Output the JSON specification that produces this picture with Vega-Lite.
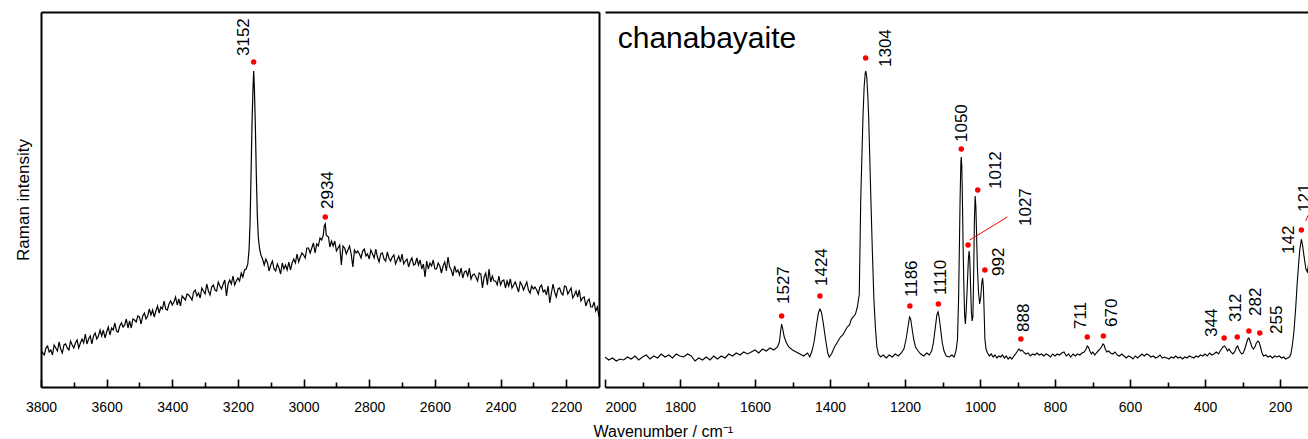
{
  "$schema": "https://vega.github.io/schema/vega-lite/v6.json",
  "background": "white",
  "padding": {"left": 14, "top": 12, "right": 0, "bottom": 0},
  "spacing": 6,
  "bounds": "flush",
  "config": {
    "view": {"stroke": null},
    "font": "Liberation Sans",
    "axis": {
      "grid": false,
      "labelFont": "Liberation Sans",
      "titleFont": "Liberation Sans",
      "labelColor": "black",
      "titleColor": "black",
      "domainColor": "black",
      "tickColor": "black",
      "titleFontWeight": "normal",
      "domainWidth": 2
    }
  },
  "resolve": {"scale": {"x": "independent", "y": "independent"}},
  "datasets": {
    "specA": [
      {"w":3800,"I":37},{"w":3795,"I":34},{"w":3790,"I":32},{"w":3785,"I":39},{"w":3780,"I":41},{"w":3775,"I":35},{"w":3770,"I":37},{"w":3765,"I":32},{"w":3760,"I":42},{"w":3755,"I":39},
      {"w":3750,"I":36},{"w":3745,"I":45},{"w":3740,"I":38},{"w":3735,"I":34},{"w":3730,"I":42},{"w":3725,"I":43},{"w":3720,"I":39},{"w":3715,"I":37},{"w":3710,"I":46},{"w":3705,"I":42},
      {"w":3700,"I":39},{"w":3695,"I":44},{"w":3690,"I":47},{"w":3685,"I":39},{"w":3680,"I":44},{"w":3675,"I":48},{"w":3670,"I":44},{"w":3665,"I":53},{"w":3660,"I":43},{"w":3655,"I":48},
      {"w":3650,"I":51},{"w":3645,"I":43},{"w":3640,"I":51},{"w":3635,"I":54},{"w":3630,"I":48},{"w":3625,"I":51},{"w":3620,"I":57},{"w":3615,"I":51},{"w":3610,"I":57},{"w":3605,"I":49},
      {"w":3600,"I":55},{"w":3595,"I":60},{"w":3590,"I":52},{"w":3585,"I":59},{"w":3580,"I":57},{"w":3575,"I":64},{"w":3570,"I":56},{"w":3565,"I":55},{"w":3560,"I":61},{"w":3555,"I":64},
      {"w":3550,"I":60},{"w":3545,"I":62},{"w":3540,"I":68},{"w":3535,"I":59},{"w":3530,"I":66},{"w":3525,"I":59},{"w":3520,"I":68},{"w":3515,"I":67},{"w":3510,"I":65},{"w":3505,"I":71},
      {"w":3500,"I":70},{"w":3495,"I":63},{"w":3490,"I":71},{"w":3485,"I":74},{"w":3480,"I":68},{"w":3475,"I":71},{"w":3470,"I":78},{"w":3465,"I":72},{"w":3460,"I":77},{"w":3455,"I":70},
      {"w":3450,"I":76},{"w":3445,"I":81},{"w":3440,"I":74},{"w":3435,"I":80},{"w":3430,"I":78},{"w":3425,"I":86},{"w":3420,"I":78},{"w":3415,"I":77},{"w":3410,"I":83},{"w":3405,"I":86},
      {"w":3400,"I":82},{"w":3395,"I":85},{"w":3390,"I":90},{"w":3385,"I":82},{"w":3380,"I":88},{"w":3375,"I":81},{"w":3370,"I":91},{"w":3365,"I":89},{"w":3360,"I":87},{"w":3355,"I":93},
      {"w":3350,"I":92},{"w":3345,"I":90},{"w":3340,"I":87},{"w":3335,"I":95},{"w":3330,"I":97},{"w":3325,"I":91},{"w":3320,"I":94},{"w":3315,"I":89},{"w":3310,"I":99},{"w":3305,"I":96},
      {"w":3300,"I":93},{"w":3295,"I":103},{"w":3290,"I":96},{"w":3285,"I":92},{"w":3280,"I":100},{"w":3275,"I":102},{"w":3270,"I":97},{"w":3265,"I":96},{"w":3260,"I":105},{"w":3255,"I":101},
      {"w":3250,"I":98},{"w":3245,"I":103},{"w":3240,"I":107},{"w":3235,"I":91},{"w":3230,"I":103},{"w":3225,"I":107},{"w":3220,"I":103},{"w":3215,"I":111},{"w":3210,"I":102},{"w":3205,"I":106},
      {"w":3200,"I":109},{"w":3195,"I":106},{"w":3190,"I":114},{"w":3185,"I":110},{"w":3180,"I":117},{"w":3175,"I":118},{"w":3170,"I":123},{"w":3166,"I":138},{"w":3163,"I":165},{"w":3160,"I":215},
      {"w":3157,"I":265},{"w":3154,"I":300},{"w":3152,"I":316},{"w":3150,"I":300},{"w":3147,"I":262},{"w":3144,"I":212},{"w":3141,"I":172},{"w":3138,"I":150},{"w":3134,"I":138},{"w":3130,"I":132},
      {"w":3125,"I":128},{"w":3120,"I":122},{"w":3115,"I":128},{"w":3110,"I":124},{"w":3105,"I":116},{"w":3100,"I":122},{"w":3095,"I":126},{"w":3090,"I":118},{"w":3085,"I":116},{"w":3080,"I":123},
      {"w":3075,"I":119},{"w":3070,"I":113},{"w":3065,"I":124},{"w":3060,"I":118},{"w":3055,"I":122},{"w":3050,"I":117},{"w":3045,"I":125},{"w":3040,"I":117},{"w":3035,"I":124},{"w":3030,"I":128},
      {"w":3025,"I":124},{"w":3020,"I":133},{"w":3015,"I":125},{"w":3010,"I":130},{"w":3005,"I":134},{"w":3000,"I":132},{"w":2995,"I":129},{"w":2990,"I":139},{"w":2985,"I":139},{"w":2980,"I":134},
      {"w":2975,"I":139},{"w":2970,"I":144},{"w":2965,"I":134},{"w":2960,"I":143},{"w":2955,"I":141},{"w":2950,"I":149},{"w":2945,"I":147},{"w":2940,"I":152},{"w":2937,"I":161},{"w":2934,"I":163},
      {"w":2931,"I":152},{"w":2928,"I":151},{"w":2924,"I":150},{"w":2920,"I":140},{"w":2915,"I":146},{"w":2910,"I":141},{"w":2905,"I":146},{"w":2900,"I":136},{"w":2895,"I":139},{"w":2890,"I":142},
      {"w":2885,"I":122},{"w":2880,"I":141},{"w":2875,"I":139},{"w":2870,"I":133},{"w":2865,"I":137},{"w":2860,"I":141},{"w":2855,"I":133},{"w":2850,"I":120},{"w":2845,"I":137},{"w":2840,"I":134},
      {"w":2835,"I":136},{"w":2830,"I":133},{"w":2825,"I":129},{"w":2820,"I":136},{"w":2815,"I":138},{"w":2810,"I":131},{"w":2805,"I":133},{"w":2800,"I":128},{"w":2795,"I":137},{"w":2790,"I":133},
      {"w":2785,"I":129},{"w":2780,"I":138},{"w":2775,"I":130},{"w":2770,"I":125},{"w":2765,"I":133},{"w":2760,"I":134},{"w":2755,"I":128},{"w":2750,"I":126},{"w":2745,"I":135},{"w":2740,"I":129},
      {"w":2735,"I":126},{"w":2730,"I":130},{"w":2725,"I":132},{"w":2720,"I":123},{"w":2715,"I":127},{"w":2710,"I":131},{"w":2705,"I":125},{"w":2700,"I":133},{"w":2695,"I":123},{"w":2690,"I":126},
      {"w":2685,"I":128},{"w":2680,"I":120},{"w":2675,"I":126},{"w":2670,"I":129},{"w":2665,"I":122},{"w":2660,"I":123},{"w":2655,"I":129},{"w":2650,"I":122},{"w":2645,"I":127},{"w":2640,"I":118},
      {"w":2635,"I":123},{"w":2630,"I":110},{"w":2625,"I":126},{"w":2620,"I":118},{"w":2615,"I":124},{"w":2610,"I":121},{"w":2605,"I":127},{"w":2600,"I":118},{"w":2595,"I":118},{"w":2590,"I":124},
      {"w":2585,"I":121},{"w":2580,"I":114},{"w":2575,"I":121},{"w":2570,"I":125},{"w":2565,"I":116},{"w":2560,"I":130},{"w":2555,"I":120},{"w":2550,"I":117},{"w":2545,"I":111},{"w":2540,"I":121},
      {"w":2535,"I":115},{"w":2530,"I":117},{"w":2525,"I":112},{"w":2520,"I":119},{"w":2515,"I":109},{"w":2510,"I":115},{"w":2505,"I":116},{"w":2500,"I":111},{"w":2495,"I":119},{"w":2490,"I":108},
      {"w":2485,"I":112},{"w":2480,"I":113},{"w":2475,"I":110},{"w":2470,"I":106},{"w":2465,"I":114},{"w":2460,"I":113},{"w":2455,"I":99},{"w":2450,"I":110},{"w":2445,"I":114},{"w":2440,"I":102},
      {"w":2435,"I":118},{"w":2430,"I":105},{"w":2425,"I":111},{"w":2420,"I":106},{"w":2415,"I":106},{"w":2410,"I":102},{"w":2405,"I":111},{"w":2400,"I":102},{"w":2395,"I":106},{"w":2390,"I":107},
      {"w":2385,"I":99},{"w":2380,"I":106},{"w":2375,"I":101},{"w":2370,"I":108},{"w":2365,"I":99},{"w":2360,"I":102},{"w":2355,"I":105},{"w":2350,"I":100},{"w":2345,"I":95},{"w":2340,"I":105},
      {"w":2335,"I":102},{"w":2330,"I":97},{"w":2325,"I":101},{"w":2320,"I":105},{"w":2315,"I":97},{"w":2310,"I":94},{"w":2305,"I":101},{"w":2300,"I":98},{"w":2295,"I":100},{"w":2290,"I":97},
      {"w":2285,"I":93},{"w":2280,"I":100},{"w":2275,"I":102},{"w":2270,"I":95},{"w":2265,"I":97},{"w":2260,"I":92},{"w":2255,"I":101},{"w":2250,"I":84},{"w":2245,"I":94},{"w":2240,"I":103},
      {"w":2235,"I":95},{"w":2230,"I":90},{"w":2225,"I":98},{"w":2220,"I":99},{"w":2215,"I":94},{"w":2210,"I":92},{"w":2205,"I":101},{"w":2200,"I":100},{"w":2195,"I":93},{"w":2190,"I":96},
      {"w":2185,"I":99},{"w":2180,"I":89},{"w":2175,"I":92},{"w":2170,"I":96},{"w":2165,"I":90},{"w":2160,"I":97},{"w":2155,"I":86},{"w":2150,"I":89},{"w":2145,"I":90},{"w":2140,"I":81},
      {"w":2135,"I":86},{"w":2130,"I":88},{"w":2125,"I":80},{"w":2120,"I":80},{"w":2115,"I":85},{"w":2110,"I":76},{"w":2105,"I":80},{"w":2100,"I":70}
    ],
    "peaksA": [
      {"w":3152,"I":325,"lw":3166,"lI":331,"label":"3152"},
      {"w":2934,"I":170,"lw":2911,"lI":178,"label":"2934"}
    ],
    "specB": [
      {"w":2000,"I":30},{"w":1990,"I":27},{"w":1980,"I":29},{"w":1970,"I":26},{"w":1960,"I":28},{"w":1950,"I":27},{"w":1940,"I":30},{"w":1930,"I":28},{"w":1920,"I":31},{"w":1910,"I":27},
      {"w":1900,"I":30},{"w":1890,"I":32},{"w":1880,"I":28},{"w":1870,"I":31},{"w":1860,"I":29},{"w":1850,"I":33},{"w":1840,"I":30},{"w":1830,"I":32},{"w":1820,"I":29},{"w":1810,"I":33},
      {"w":1800,"I":31},{"w":1790,"I":30},{"w":1780,"I":33},{"w":1770,"I":31},{"w":1760,"I":26},{"w":1750,"I":29},{"w":1740,"I":27},{"w":1730,"I":30},{"w":1720,"I":27},{"w":1710,"I":31},
      {"w":1700,"I":28},{"w":1690,"I":31},{"w":1680,"I":29},{"w":1670,"I":33},{"w":1660,"I":31},{"w":1650,"I":34},{"w":1640,"I":32},{"w":1630,"I":35},{"w":1620,"I":33},{"w":1610,"I":35},
      {"w":1600,"I":37},{"w":1590,"I":34},{"w":1580,"I":38},{"w":1570,"I":36},{"w":1560,"I":39},{"w":1550,"I":37},{"w":1540,"I":40},{"w":1535,"I":45},{"w":1531,"I":58},{"w":1529,"I":63},
      {"w":1526,"I":58},{"w":1522,"I":50},{"w":1516,"I":44},{"w":1510,"I":40},{"w":1500,"I":37},{"w":1490,"I":35},{"w":1480,"I":33},{"w":1470,"I":31},{"w":1460,"I":34},{"w":1454,"I":30},
      {"w":1448,"I":36},{"w":1442,"I":46},{"w":1436,"I":62},{"w":1431,"I":74},{"w":1427,"I":78},{"w":1423,"I":75},{"w":1418,"I":64},{"w":1412,"I":48},{"w":1406,"I":34},{"w":1402,"I":30},
      {"w":1396,"I":33},{"w":1388,"I":40},{"w":1380,"I":45},{"w":1372,"I":50},{"w":1366,"I":52},{"w":1360,"I":56},{"w":1354,"I":60},{"w":1348,"I":62},{"w":1343,"I":68},{"w":1338,"I":70},
      {"w":1332,"I":73},{"w":1327,"I":80},{"w":1324,"I":88},{"w":1322,"I":92},{"w":1320,"I":140},{"w":1318,"I":188},{"w":1315,"I":230},{"w":1312,"I":271},{"w":1309,"I":300},{"w":1306,"I":314},
      {"w":1304.5,"I":316},{"w":1302,"I":310},{"w":1299,"I":290},{"w":1297,"I":271},{"w":1294,"I":230},{"w":1291,"I":188},{"w":1287,"I":135},{"w":1283,"I":88},{"w":1279,"I":60},{"w":1275,"I":40},
      {"w":1271,"I":33},{"w":1265,"I":30},{"w":1258,"I":32},{"w":1250,"I":29},{"w":1242,"I":32},{"w":1234,"I":30},{"w":1226,"I":33},{"w":1218,"I":31},{"w":1210,"I":34},{"w":1203,"I":38},
      {"w":1197,"I":48},{"w":1192,"I":60},{"w":1188,"I":70},{"w":1185,"I":68},{"w":1181,"I":58},{"w":1177,"I":48},{"w":1172,"I":40},{"w":1165,"I":36},{"w":1158,"I":33},{"w":1150,"I":31},
      {"w":1142,"I":34},{"w":1135,"I":32},{"w":1129,"I":36},{"w":1124,"I":45},{"w":1119,"I":60},{"w":1115,"I":72},{"w":1112,"I":75},{"w":1109,"I":70},{"w":1105,"I":58},{"w":1101,"I":45},
      {"w":1096,"I":36},{"w":1090,"I":31},{"w":1082,"I":30},{"w":1075,"I":32},{"w":1069,"I":30},{"w":1064,"I":36},{"w":1060,"I":48},{"w":1057,"I":90},{"w":1055,"I":140},{"w":1053,"I":190},
      {"w":1051,"I":225},{"w":1050,"I":230},{"w":1048.5,"I":220},{"w":1047,"I":190},{"w":1045,"I":140},{"w":1043,"I":100},{"w":1041,"I":72},{"w":1039,"I":63},{"w":1037,"I":75},{"w":1034,"I":100},
      {"w":1031,"I":128},{"w":1029,"I":136},{"w":1027.5,"I":130},{"w":1025,"I":100},{"w":1023,"I":75},{"w":1021,"I":66},{"w":1019,"I":70},{"w":1017,"I":110},{"w":1015,"I":165},{"w":1013,"I":191},
      {"w":1011,"I":180},{"w":1009,"I":150},{"w":1007,"I":120},{"w":1004,"I":95},{"w":1001,"I":83},{"w":998,"I":90},{"w":995,"I":105},{"w":993,"I":109},{"w":991,"I":100},{"w":989,"I":75},
      {"w":987,"I":48},{"w":984,"I":38},{"w":980,"I":34},{"w":975,"I":31},{"w":970,"I":33},{"w":965,"I":30},{"w":960,"I":32},{"w":955,"I":29},{"w":950,"I":31},{"w":945,"I":30},
      {"w":940,"I":32},{"w":935,"I":29},{"w":930,"I":31},{"w":925,"I":28},{"w":920,"I":30},{"w":915,"I":28},{"w":910,"I":31},{"w":905,"I":33},{"w":900,"I":36},{"w":896,"I":38},
      {"w":892,"I":36},{"w":888,"I":37},{"w":884,"I":35},{"w":878,"I":33},{"w":872,"I":34},{"w":866,"I":31},{"w":860,"I":33},{"w":854,"I":32},{"w":848,"I":34},{"w":842,"I":32},
      {"w":836,"I":33},{"w":830,"I":31},{"w":824,"I":33},{"w":818,"I":32},{"w":812,"I":30},{"w":806,"I":33},{"w":800,"I":31},{"w":794,"I":33},{"w":788,"I":32},{"w":782,"I":34},
      {"w":776,"I":35},{"w":770,"I":31},{"w":764,"I":33},{"w":758,"I":30},{"w":752,"I":33},{"w":746,"I":31},{"w":740,"I":33},{"w":734,"I":32},{"w":728,"I":34},{"w":722,"I":35},
      {"w":717,"I":38},{"w":714,"I":41},{"w":711,"I":40},{"w":707,"I":36},{"w":703,"I":33},{"w":699,"I":35},{"w":694,"I":32},{"w":690,"I":34},{"w":685,"I":36},{"w":680,"I":38},
      {"w":676,"I":40},{"w":672,"I":43},{"w":669,"I":42},{"w":666,"I":38},{"w":662,"I":35},{"w":657,"I":36},{"w":652,"I":34},{"w":646,"I":33},{"w":640,"I":35},{"w":634,"I":32},
      {"w":628,"I":31},{"w":622,"I":33},{"w":616,"I":31},{"w":610,"I":29},{"w":604,"I":31},{"w":598,"I":30},{"w":592,"I":28},{"w":586,"I":31},{"w":580,"I":29},{"w":574,"I":31},
      {"w":568,"I":33},{"w":562,"I":31},{"w":556,"I":33},{"w":550,"I":32},{"w":544,"I":30},{"w":538,"I":31},{"w":532,"I":29},{"w":526,"I":30},{"w":520,"I":32},{"w":514,"I":29},
      {"w":508,"I":30},{"w":502,"I":29},{"w":496,"I":28},{"w":490,"I":30},{"w":484,"I":29},{"w":478,"I":31},{"w":472,"I":29},{"w":466,"I":30},{"w":460,"I":28},{"w":454,"I":30},
      {"w":448,"I":29},{"w":442,"I":31},{"w":436,"I":30},{"w":430,"I":29},{"w":424,"I":31},{"w":418,"I":30},{"w":412,"I":32},{"w":406,"I":31},{"w":400,"I":33},{"w":394,"I":31},
      {"w":388,"I":34},{"w":382,"I":32},{"w":376,"I":33},{"w":370,"I":35},{"w":364,"I":33},{"w":358,"I":37},{"w":352,"I":40},{"w":348,"I":41},{"w":344,"I":39},{"w":340,"I":36},
      {"w":336,"I":38},{"w":331,"I":35},{"w":326,"I":33},{"w":321,"I":35},{"w":316,"I":40},{"w":313,"I":41},{"w":310,"I":38},{"w":306,"I":35},{"w":302,"I":33},{"w":298,"I":34},
      {"w":294,"I":38},{"w":290,"I":43},{"w":286,"I":48},{"w":283,"I":49},{"w":279,"I":45},{"w":275,"I":40},{"w":271,"I":38},{"w":267,"I":40},{"w":263,"I":44},{"w":259,"I":46},
      {"w":256,"I":45},{"w":252,"I":40},{"w":248,"I":34},{"w":244,"I":31},{"w":238,"I":32},{"w":232,"I":30},{"w":226,"I":31},{"w":220,"I":29},{"w":214,"I":31},{"w":208,"I":30},
      {"w":202,"I":31},{"w":196,"I":29},{"w":190,"I":30},{"w":185,"I":28},{"w":180,"I":29},{"w":175,"I":30},{"w":171,"I":33},{"w":167,"I":42},{"w":163,"I":55},{"w":158,"I":80},
      {"w":154,"I":105},{"w":150,"I":125},{"w":147,"I":138},{"w":143,"I":148},{"w":140,"I":142},{"w":136,"I":131},{"w":131,"I":118},{"w":127,"I":115},{"w":123,"I":125},{"w":120,"I":140},
      {"w":117,"I":138},{"w":113,"I":120},{"w":108,"I":100},{"w":100,"I":80}
    ],
    "peaksB": [
      {"w":1529,"I":71,"lw":1509,"lI":83,"label":"1527"},
      {"w":1427,"I":91,"lw":1407,"lI":101,"label":"1424"},
      {"w":1305,"I":329,"lw":1238,"lI":320,"label":"1304"},
      {"w":1187,"I":81,"lw":1167,"lI":90,"label":"1186"},
      {"w":1111,"I":83,"lw":1091,"lI":92,"label":"1110"},
      {"w":1050,"I":238,"lw":1034,"lI":245,"label":"1050"},
      {"w":1032,"I":142,"lw":865,"lI":161,"label":"1027"},
      {"w":1006,"I":197,"lw":945,"lI":198,"label":"1012"},
      {"w":987,"I":117,"lw":936,"lI":111,"label":"992"},
      {"w":891,"I":48,"lw":869,"lI":55,"label":"888"},
      {"w":714,"I":50,"lw":718,"lI":58,"label":"711"},
      {"w":671,"I":51,"lw":634,"lI":60,"label":"670"},
      {"w":349,"I":49,"lw":367,"lI":50,"label":"344"},
      {"w":314,"I":50,"lw":305,"lI":65,"label":"312"},
      {"w":283,"I":56,"lw":251.5,"lI":71,"label":"282"},
      {"w":254,"I":54,"lw":194,"lI":53,"label":"255"},
      {"w":143,"I":157,"lw":163,"lI":133,"label":"142"},
      {"w":112,"I":160,"lw":121,"lI":175,"label":"121"}
    ],
    "leadersB": [
      {"w1":1027.5,"I1":147,"w2":927,"I2":170},
      {"w1":131.5,"I1":166,"w2":110,"I2":185}
    ]
  },
  "hconcat": [
    {
      "width": 558,
      "height": 375,
      "layer": [
        {
          "data": {"name": "specA"},
          "mark": {"type": "line", "color": "black", "strokeWidth": 1.2, "clip": true},
          "encoding": {
            "x": {
              "field": "w", "type": "quantitative",
              "scale": {"domain": [2100, 3800], "reverse": true, "nice": false, "zero": false},
              "axis": {
                "orient": "bottom",
                "title": null,
                "values": [3800,3600,3400,3200,3000,2800,2600,2400,2200],
                "format": "d",
                "labelFlush": false,
                "tickSize": -8,
                "tickWidth": 1.6,
                "labelFontSize": 14,
                "labelPadding": 21
              }
            },
            "y": {
              "field": "I", "type": "quantitative",
              "scale": {"domain": [0, 375], "nice": false, "zero": false},
              "axis": {"orient": "left", "title": "Raman intensity", "labels": false, "ticks": false, "titleFontSize": 17, "titlePadding": 9}
            }
          }
        },
        {
          "data": {"values": [{"t": ""}]},
          "mark": {"type": "text", "fontSize": 10},
          "encoding": {
            "x": {"datum": 3000, "type": "quantitative", "axis": {"orient": "top", "labels": false, "ticks": false, "title": null}},
            "y": {"datum": 200, "type": "quantitative", "axis": {"orient": "right", "labels": false, "ticks": false, "title": null}},
            "text": {"field": "t"}
          }
        },
        {
          "data": {"name": "peaksA"},
          "mark": {"type": "point", "shape": "circle", "filled": true, "color": "#ff0000", "opacity": 1, "size": 30},
          "encoding": {
            "x": {
              "field": "w", "type": "quantitative",
              "axis": {"orient": "bottom", "title": null, "labels": false, "domain": false, "values": [3700,3500,3300,3100,2900,2700,2500,2300], "tickSize": -5, "tickWidth": 1.6}
            },
            "y": {"field": "I", "type": "quantitative", "axis": null}
          }
        },
        {
          "data": {"name": "peaksA"},
          "mark": {"type": "text", "angle": 270, "align": "left", "baseline": "alphabetic", "fontSize": 17, "color": "black", "font": "Liberation Sans"},
          "encoding": {
            "x": {"field": "lw", "type": "quantitative", "axis": null},
            "y": {"field": "lI", "type": "quantitative", "axis": null},
            "text": {"field": "label"}
          }
        }
      ]
    },
    {
      "width": 704,
      "height": 375,
      "layer": [
        {
          "data": {"name": "specB"},
          "mark": {"type": "line", "color": "black", "strokeWidth": 1.1, "clip": true},
          "encoding": {
            "x": {
              "field": "w", "type": "quantitative",
              "scale": {"domain": [122.7, 2000], "reverse": true, "nice": false, "zero": false},
              "axis": {
                "orient": "bottom",
                "title": "Wavenumber / cm⁻¹",
                "titleFontSize": 16,
                "titleAlign": "left",
                "titleAnchor": "start",
                "titleX": -12,
                "titleY": 49,
                "titleBaseline": "alphabetic",
                "values": [2000,1800,1600,1400,1200,1000,800,600,400,200],
                "format": "d",
                "labelFlush": true,
                "tickSize": -8,
                "tickWidth": 1.6,
                "labelFontSize": 14,
                "labelPadding": 21
              }
            },
            "y": {
              "field": "I", "type": "quantitative",
              "scale": {"domain": [0, 375], "nice": false, "zero": false},
              "axis": {"orient": "left", "title": null, "labels": false, "ticks": false}
            }
          }
        },
        {
          "data": {"values": [{"t": "chanabayaite"}]},
          "mark": {"type": "text", "align": "left", "baseline": "alphabetic", "fontSize": 30, "color": "black", "font": "Liberation Sans"},
          "encoding": {
            "x": {"datum": 1966, "type": "quantitative", "axis": {"orient": "top", "labels": false, "ticks": false, "title": null}},
            "y": {"datum": 339, "type": "quantitative", "axis": null},
            "text": {"field": "t"}
          }
        },
        {
          "data": {"name": "leadersB"},
          "mark": {"type": "rule", "color": "#ff0000", "strokeWidth": 1, "clip": true},
          "encoding": {
            "x": {"field": "w1", "type": "quantitative", "axis": null},
            "x2": {"field": "w2"},
            "y": {"field": "I1", "type": "quantitative", "axis": null},
            "y2": {"field": "I2"}
          }
        },
        {
          "data": {"name": "peaksB"},
          "mark": {"type": "point", "shape": "circle", "filled": true, "color": "#ff0000", "opacity": 1, "size": 30, "clip": true},
          "encoding": {
            "x": {
              "field": "w", "type": "quantitative",
              "axis": {"orient": "bottom", "title": null, "labels": false, "domain": false, "values": [1900,1700,1500,1300,1100,900,700,500,300], "tickSize": -5, "tickWidth": 1.6}
            },
            "y": {"field": "I", "type": "quantitative", "axis": null}
          }
        },
        {
          "data": {"name": "peaksB"},
          "mark": {"type": "text", "angle": 270, "align": "left", "baseline": "alphabetic", "fontSize": 17, "color": "black", "font": "Liberation Sans", "clip": true},
          "encoding": {
            "x": {"field": "lw", "type": "quantitative", "axis": null},
            "y": {"field": "lI", "type": "quantitative", "axis": null},
            "text": {"field": "label"}
          }
        }
      ]
    }
  ]
}
